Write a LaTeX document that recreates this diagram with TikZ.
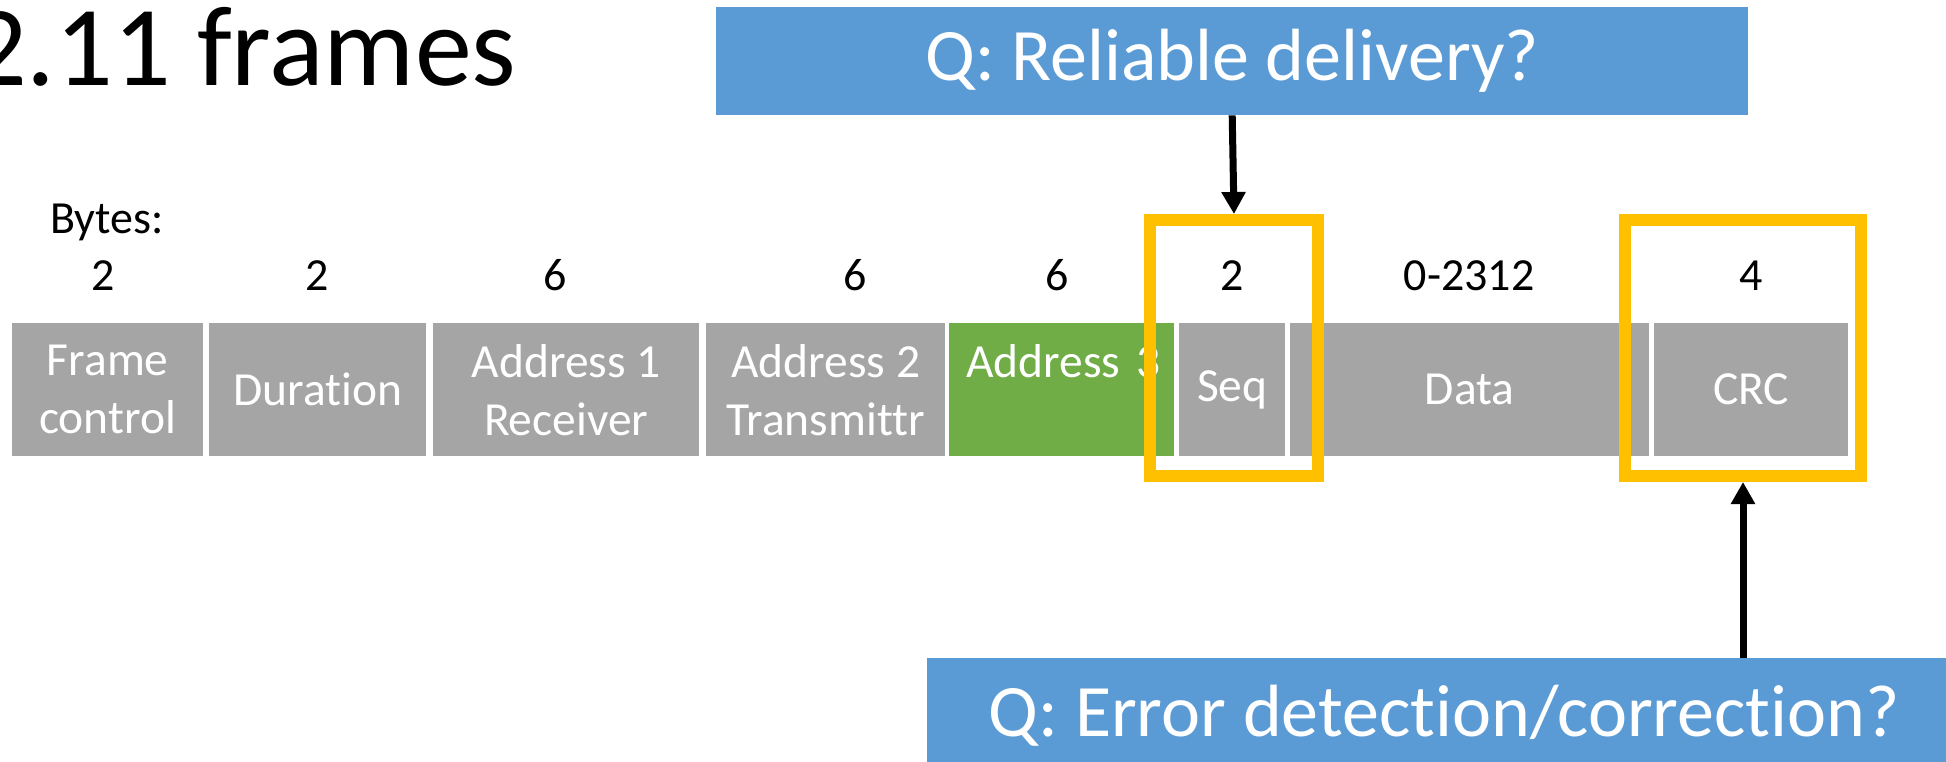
\documentclass[tikz,border=0pt]{standalone}
\usepackage{fontspec}
\setmainfont{Carlito}[Ligatures=NoCommon]
\usetikzlibrary{arrows.meta}
\definecolor{fieldgrey}{HTML}{A5A5A5}
\definecolor{addrgreen}{HTML}{70AD47}
\definecolor{qblue}{HTML}{5B9BD5}
\definecolor{hiyellow}{HTML}{FFC000}
\tikzset{
  field/.style={rectangle,fill=fieldgrey,text=white,anchor=north west,minimum height=133pt,inner sep=0pt,align=center,font=\fontsize{47.5}{58}\selectfont},
  bytes/.style={anchor=base,inner sep=0pt,font=\fontsize{46}{58}\selectfont},
  question/.style={rectangle,fill=qblue,text=white,anchor=north west,inner sep=0pt,font=\fontsize{74}{84}\selectfont},
  hilite/.style={rectangle,draw=hiyellow,line width=12pt,inner sep=0pt,minimum height=256pt},
  line/.style={-{Triangle[width=23pt,length=22pt]},line width=7pt}
}
\begin{document}
\begin{tikzpicture}[x=1pt,y=-1pt]
\useasboundingbox (0,0) rectangle (1946,761);
\clip (0,0) rectangle (1946,761);
\node[anchor=base west,inner sep=0pt,font=\fontsize{114}{124}\selectfont] (title) at (-31,85) {2.11 frames};
% header and sizes
\node[anchor=base west,inner sep=0pt,font=\fontsize{46}{58}\selectfont] (hdr) at (50,233) {Bytes:};
\node[bytes] (n1) at (103,290) {2};
\node[bytes] (n2) at (317,290) {2};
\node[bytes] (n3) at (555,290) {6};
\node[bytes] (n4) at (855,290) {6};
\node[bytes] (n5) at (1057,290) {6};
\node[bytes] (n6) at (1232,290) {2};
\node[bytes] (n7) at (1469,290) {0-2312};
\node[bytes] (n8) at (1751,290) {4};
% frame fields
\node[field,minimum width=191pt] (fc) at (12,323) {Frame\\control};
\node[field,minimum width=217pt] (dur) at (209,323) {Duration};
\node[field,minimum width=266pt] (addr1) at (433,323) {Address 1\\Receiver};
\node[field,minimum width=239pt] (addr2) at (706,323) {Address 2\\Transmittr};
\node[field,fill=addrgreen,align=left,inner xsep=17pt,text width=191pt] (addr3) at (949,323) {\mbox{Address 3}\\\mbox{}};
\node[field,minimum width=106pt] (seq) at (1179,323) {Seq};
\node[field,minimum width=359pt] (data) at (1290,323) {Data};
\node[field,minimum width=194pt] (crc) at (1654,323) {CRC};
% highlights
\node[hilite,minimum width=168pt] (seqbox) at (1234,348) {};
\node[hilite,minimum width=236pt] (crcbox) at (1743,348) {};
% questions
\node[question,minimum width=1032pt,minimum height=108pt] (q1) at (716,7) {Q: Reliable delivery?};
\node[question,minimum width=1034pt,minimum height=114pt] (q2) at (927,658) {Q: Error detection/correction?};
\draw[line] (q1.south) -- (seqbox.north);
\draw[line] (q2.north -| crcbox.south) -- (crcbox.south);
\end{tikzpicture}
\end{document}
